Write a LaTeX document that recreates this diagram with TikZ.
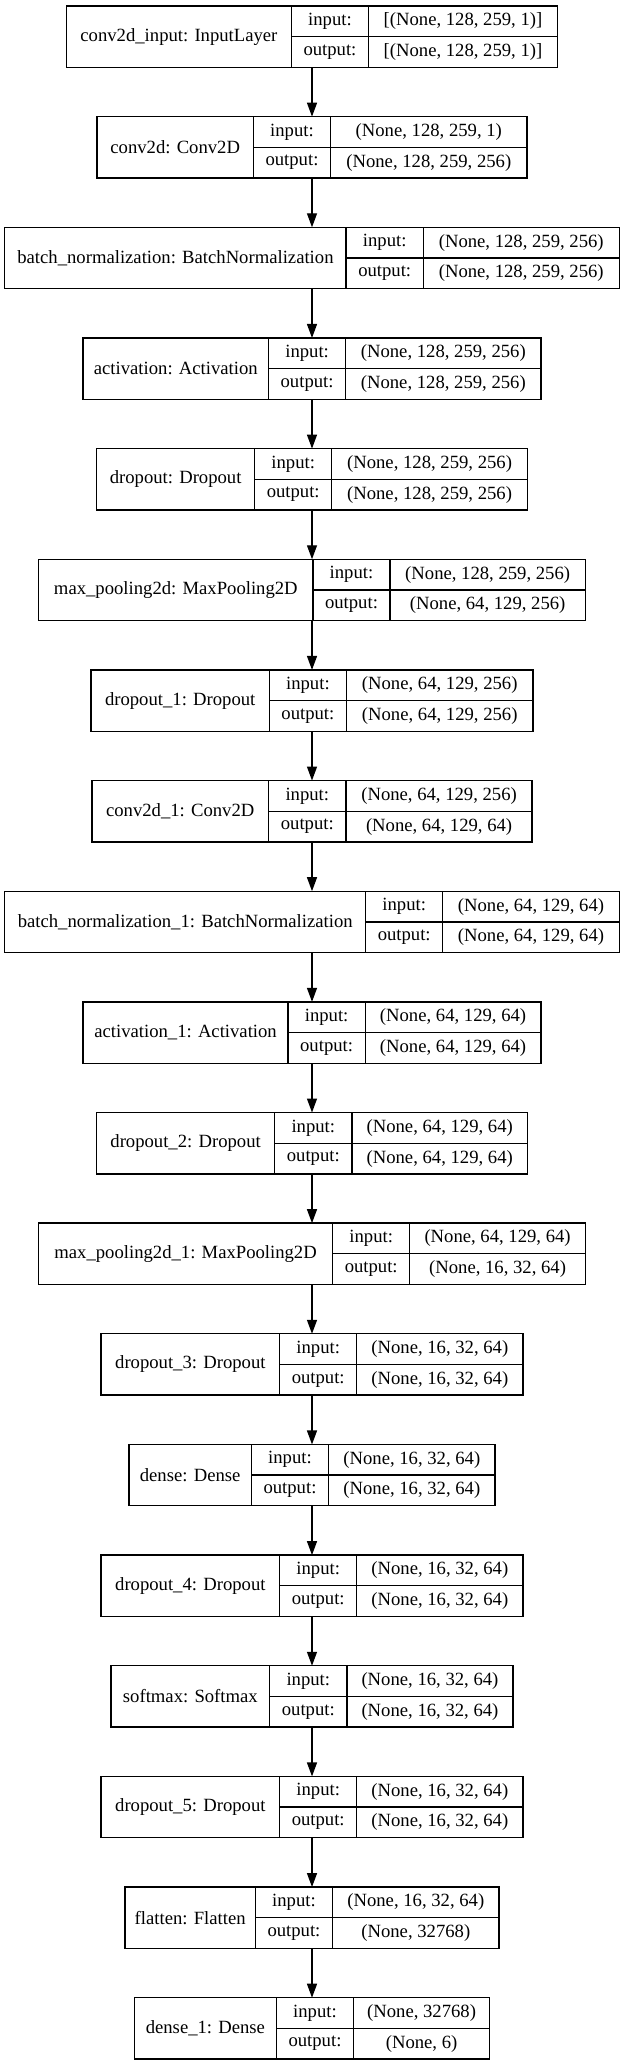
\documentclass[tikz,border=0pt]{standalone}
\usepackage{fontspec}
\setmainfont{Liberation Serif}
\usetikzlibrary{arrows.meta,positioning}

\begin{document}
\begin{tikzpicture}[x=0.75pt, y=-0.75pt,
            record/.style={rectangle, inner sep=0pt, outer sep=0pt, minimum height=46pt},
            cell/.style={draw, rectangle, inner sep=0pt, outer sep=0pt, line width=1pt,
                         font=\fontsize{14pt}{16pt}\selectfont},
            flow/.style={-{Triangle[length=10.5pt, width=7.5pt]}, line width=1pt}]

    \useasboundingbox (0,0) rectangle (625,2065);

    % one record per layer: index / left edge / name|label divider / label|value divider / texts
    \foreach \i/\xl/\xa/\xb/\lname/\vin/\vout in {
        1/66.7/291.2/368.7/{conv2d\_input: InputLayer}/{[(None, 128, 259, 1)]}/{[(None, 128, 259, 1)]},
        2/96.9/253.5/330.5/{conv2d: Conv2D}/{(None, 128, 259, 1)}/{(None, 128, 259, 256)},
        3/4.8/346.1/423.3/{batch\_normalization: BatchNormalization}/{(None, 128, 259, 256)}/{(None, 128, 259, 256)},
        4/83.1/268.5/345.7/{activation: Activation}/{(None, 128, 259, 256)}/{(None, 128, 259, 256)},
        5/96.7/254.6/331.8/{dropout: Dropout}/{(None, 128, 259, 256)}/{(None, 128, 259, 256)},
        6/38.6/313.1/389.9/{max\_pooling2d: MaxPooling2D}/{(None, 128, 259, 256)}/{(None, 64, 129, 256)},
        7/91.1/269.3/346.5/{dropout\_1: Dropout}/{(None, 64, 129, 256)}/{(None, 64, 129, 256)},
        8/91.9/268.5/346.1/{conv2d\_1: Conv2D}/{(None, 64, 129, 256)}/{(None, 64, 129, 64)},
        9/4.8/365.6/442.8/{batch\_normalization\_1: BatchNormalization}/{(None, 64, 129, 64)}/{(None, 64, 129, 64)},
        10/83.1/288.0/365.2/{activation\_1: Activation}/{(None, 64, 129, 64)}/{(None, 64, 129, 64)},
        11/96.7/274.5/352.1/{dropout\_2: Dropout}/{(None, 64, 129, 64)}/{(None, 64, 129, 64)},
        12/38.6/332.6/409.8/{max\_pooling2d\_1: MaxPooling2D}/{(None, 64, 129, 64)}/{(None, 16, 32, 64)},
        13/101.0/279.7/356.7/{dropout\_3: Dropout}/{(None, 16, 32, 64)}/{(None, 16, 32, 64)},
        14/128.9/251.4/328.6/{dense: Dense}/{(None, 16, 32, 64)}/{(None, 16, 32, 64)},
        15/101.0/279.7/356.7/{dropout\_4: Dropout}/{(None, 16, 32, 64)}/{(None, 16, 32, 64)},
        16/111.0/269.7/346.9/{softmax: Softmax}/{(None, 16, 32, 64)}/{(None, 16, 32, 64)},
        17/101.0/279.7/356.7/{dropout\_5: Dropout}/{(None, 16, 32, 64)}/{(None, 16, 32, 64)},
        18/124.9/255.4/332.5/{flatten: Flatten}/{(None, 16, 32, 64)}/{(None, 32768)},
        19/134.4/276.4/353.6/{dense\_1: Dense}/{(None, 32768)}/{(None, 6)}}
    {
        \pgfmathsetmacro{\yt}{6+(\i-1)*110.65}
        \pgfmathsetmacro{\wr}{(624-2*\xl)*0.75}
        \pgfmathsetmacro{\wn}{(\xa-\xl)*0.75}
        \pgfmathsetmacro{\wl}{(\xb-\xa)*0.75}
        \pgfmathsetmacro{\wv}{(624-\xl-\xb)*0.75}
        \node[record, minimum width=\wr pt, anchor=north] (r\i) at (312,\yt) {};
        \node[cell, minimum width=\wn pt, minimum height=46pt, anchor=north west] (n\i) at (r\i.north west) {\lname};
        \node[cell, minimum width=\wl pt, minimum height=23pt, anchor=north west] (li\i) at (n\i.north east) {input:};
        \node[cell, minimum width=\wl pt, minimum height=23pt, anchor=north west] (lo\i) at (li\i.south west) {output:};
        \node[cell, minimum width=\wv pt, minimum height=23pt, anchor=north west] (vi\i) at (li\i.north east) {\vin};
        \node[cell, minimum width=\wv pt, minimum height=23pt, anchor=north west] (vo\i) at (vi\i.south west) {\vout};
    }

    % data flow
    \foreach \i [evaluate=\i as \j using int(\i+1)] in {1,...,18}
        \draw[flow] (r\i.south) -- (r\j.north);

\end{tikzpicture}
\end{document}
